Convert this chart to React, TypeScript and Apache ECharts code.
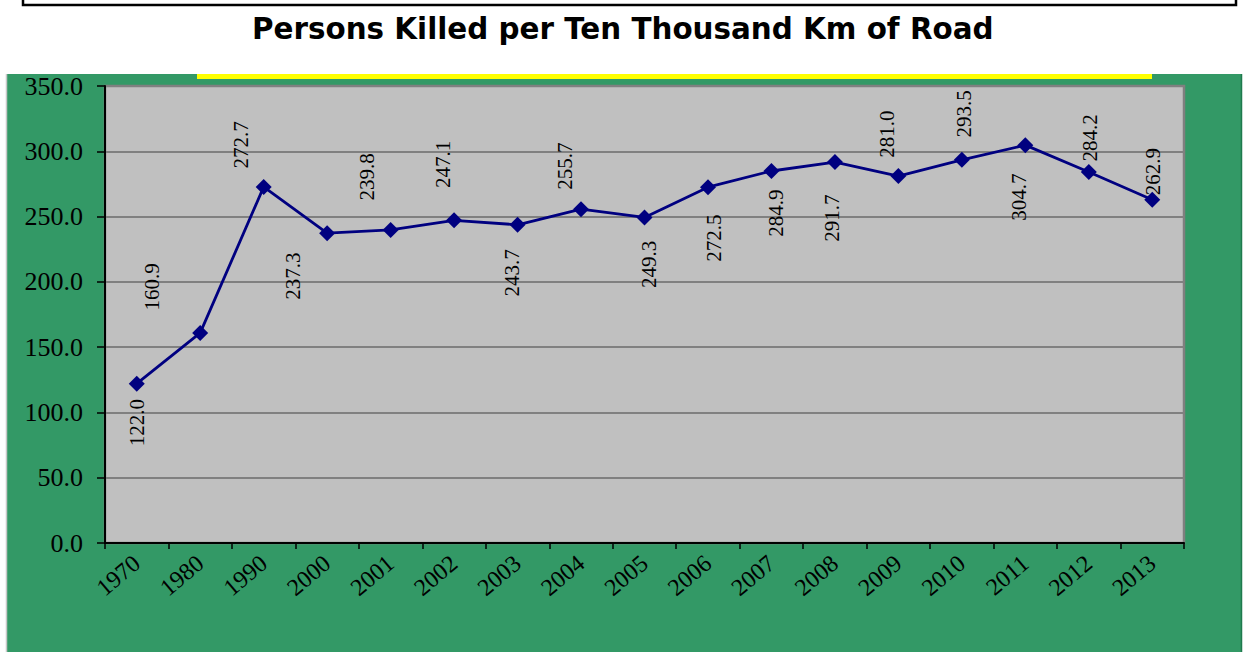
import React, { useEffect, useRef } from "react";
import * as echarts from "echarts";

const titleText = "Persons Killed per Ten Thousand Km of Road";
const years = ["1970", "1980", "1990", "2000", "2001", "2002", "2003", "2004", "2005", "2006", "2007", "2008", "2009", "2010", "2011", "2012", "2013"];
const killedPerTenThousandKm = [122.0, 160.9, 272.7, 237.3, 239.8, 247.1, 243.7, 255.7, 249.3, 272.5, 284.9, 291.7, 281.0, 293.5, 304.7, 284.2, 262.9];
const yMin = 0;
const yMax = 350;
const yStep = 50;

// label shifts on screen (pixels) relative to each point, as in the reference
const labelShiftX = [0, -48, -23, -34, -24, -11, -6, -16, 4, 6, 5, -3, -11, 2, -6, 1, 1];
const labelShiftY = [39, -46, -42, 43, -53, -56, 48, -43, 47, 51, 42, 56, -42, -46, 52, -34, -28];

export default function App() {
  const ref = useRef<HTMLDivElement>(null);
  useEffect(() => {
    document.body.style.margin = "0";
    const chart = echarts.init(ref.current!, null, { renderer: "svg" });
    chart.setOption({
      animation: false,
      backgroundColor: "#ffffff",
      title: {
        text: titleText,
        left: 247,
        top: 9,
        textStyle: { fontFamily: "DejaVu Sans", fontWeight: "bold", fontSize: 29.4, color: "#000" },
      },
      graphic: [
        { type: "rect", z: -10, silent: true, shape: { x: 23, y: -10, width: 1213, height: 15 }, style: { fill: "none", stroke: "#000", lineWidth: 2.5 } },
        { type: "rect", z: -10, silent: true, shape: { x: 7, y: 74, width: 1235, height: 600 }, style: { fill: "#339966" } },
        { type: "line", z: -9, silent: true, shape: { x1: 6.5, y1: 74, x2: 6.5, y2: 652 }, style: { stroke: "#c8c8c8", lineWidth: 1.5 } },
        { type: "line", z: -9, silent: true, shape: { x1: 1241.5, y1: 74, x2: 1241.5, y2: 652 }, style: { stroke: "#1f7a4d", lineWidth: 1.5 } },
        { type: "rect", z: -9, silent: true, shape: { x: 197, y: 74, width: 955, height: 5 }, style: { fill: "#ffff00" } },
      ],
      grid: {
        left: 105,
        right: 61,
        top: 86,
        bottom: 109,
        show: true,
        backgroundColor: "#c0c0c0",
        borderColor: "#7f7f7f",
        borderWidth: 2.5,
        outerBoundsMode: "none",
      },
      xAxis: {
        type: "category",
        data: years,
        boundaryGap: true,
        axisLine: { lineStyle: { color: "#000", width: 2 } },
        axisTick: { show: true, length: 6, lineStyle: { color: "#000", width: 1.5 } },
        axisLabel: { rotate: 40, margin: 17, fontFamily: "Liberation Serif", fontSize: 24, color: "#000" },
      },
      yAxis: {
        type: "value",
        min: yMin,
        max: yMax,
        interval: yStep,
        axisLine: { show: true, lineStyle: { color: "#000", width: 2 } },
        axisTick: { show: true, length: 8, lineStyle: { color: "#000", width: 1.5 } },
        axisLabel: { margin: 22, fontFamily: "Liberation Serif", fontSize: 26, color: "#000", formatter: (v: number) => v.toFixed(1) },
        splitLine: { show: true, lineStyle: { color: "#808080", width: 2 } },
      },
      series: [
        {
          type: "line",
          data: killedPerTenThousandKm,
          symbol: "diamond",
          symbolSize: 16,
          itemStyle: { color: "#000080" },
          lineStyle: { color: "#000080", width: 2.8 },
          label: {
            show: true,
            position: "inside",
            rotate: 90,
            fontFamily: "Liberation Serif",
            fontSize: 21,
            color: "#000",
            formatter: (p: any) => Number(p.value).toFixed(1),
          },
          // the shift is applied in the label's rotated frame: screen (sx, sy) -> local (-sy, sx)
          labelLayout: (p: any) => ({ dx: -labelShiftY[p.dataIndex], dy: labelShiftX[p.dataIndex] }),
        },
      ],
    });
    return () => chart.dispose();
  }, []);
  return <div ref={ref} style={{ width: 1245, height: 652 }} />;
}
